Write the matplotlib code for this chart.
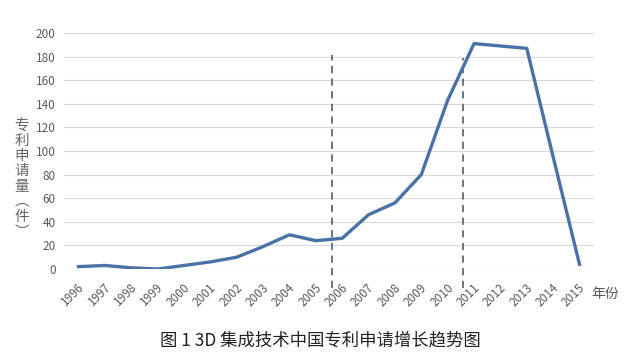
import numpy as np
import matplotlib.pyplot as plt
from matplotlib import transforms

plt.rcParams['font.family'] = ['Noto Sans CJK SC', 'DejaVu Sans']

years = list(range(1996, 2016))
counts = [2, 3, 1, 0, 3, 6, 10, 19, 29, 24, 26, 46, 56, 80, 143, 191, 189, 187, 95, 4]
y_ticks = list(range(0, 201, 20))
split_years = [2005.62, 2010.6]  # dashed stage separators

fig = plt.figure(figsize=(6.4, 3.62), dpi=100)
ax = fig.add_axes([64 / 640, 1 - 269 / 362, (594 - 64) / 640, (269 - 33) / 362])

ax.plot(years, counts, color='#4a72a6', lw=2.4, solid_joinstyle='round', zorder=3)
ax.set_xlim(1995.45, 2015.55)
ax.set_ylim(0, 200)
ax.set_yticks(y_ticks)
ax.yaxis.grid(True, color='#d9d9d9', lw=0.8)
ax.set_axisbelow(True)
for s in ax.spines.values():
    s.set_visible(False)
ax.tick_params(length=0, colors='#595959', labelsize=8.5)
ax.tick_params(axis='y', pad=6)

ax.set_xticks(years)
ax.set_xticklabels([str(y) for y in years], rotation=45, ha='right',
                   rotation_mode='anchor')
off = transforms.ScaledTranslation(-1 / 100, -7 / 100, fig.dpi_scale_trans)
for lab in ax.get_xticklabels():
    lab.set_transform(lab.get_transform() + off)

for xv, top in zip(split_years, [55, 58]):
    y0 = -19 / 1.18
    y1 = (269 - top) / 1.18
    ax.plot([xv, xv], [y0, y1], color='#5a6a80', lw=1.3, ls=(0, (4, 3)),
            clip_on=False, zorder=2)

ylab = '\n'.join('专利申请量︵件︶')
fig.text(22 / 640, 1 - 179 / 362, ylab, ha='center', va='center',
         fontsize=10.5, color='#666666', linespacing=1.1)
fig.text(605 / 640, 1 - 294 / 362, '年份', ha='center', va='center',
         fontsize=10, color='#595959')
fig.text(320 / 640, 1 - 340 / 362, '图 1 3D 集成技术中国专利申请增长趋势图',
         ha='center', va='center', fontsize=12.5, color='#222222')

fig.savefig('out.png', dpi=100)
